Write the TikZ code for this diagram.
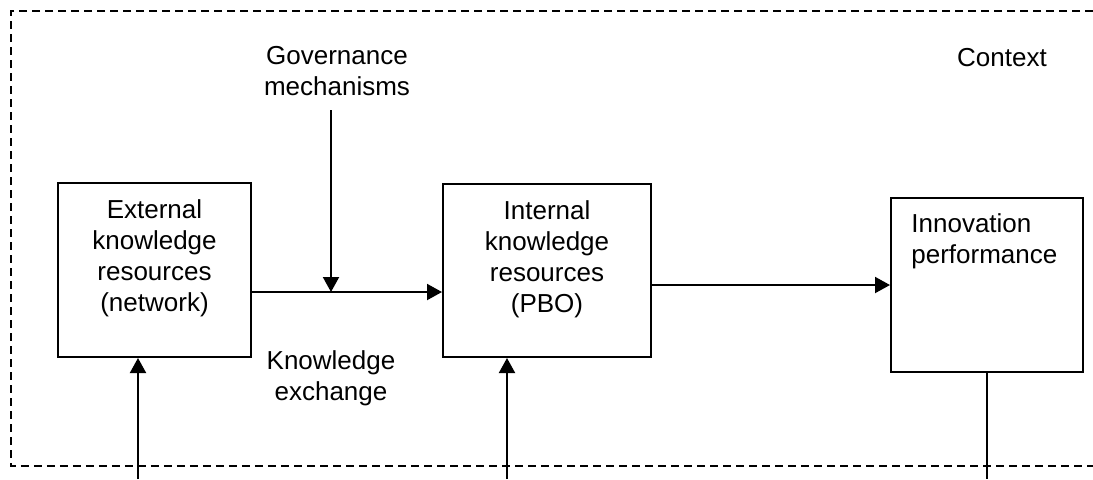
\documentclass[tikz,border=0pt]{standalone}
\usepackage{fontspec}
\setmainfont{Liberation Sans}
\usetikzlibrary{positioning,arrows.meta}
\begin{document}
\begin{tikzpicture}[x=0.5pt,y=-0.5pt,
	font=\fontsize{13}{15.5}\selectfont,
	box/.style={draw, line width=1pt, inner sep=0pt},
	txt/.style={inner sep=0pt, align=center},
	arr/.style={line width=1pt, -{Triangle[length=7.5pt,width=8pt]}},
	frame/.style={line width=1pt, dash pattern=on 4pt off 2.5pt}]
	\useasboundingbox (0,0) rectangle (1093,479);
	\draw[frame] (1093,11) -| (11,466) -- (1093,466);
	\node[txt, anchor=north] (context) at (1002,48) {Context};
	% boxes
	\node[box, minimum width=96.5pt, minimum height=87pt] (ext) at (154.5,270) {};
	\node[box, minimum width=104pt, minimum height=86.5pt] (int) at (547,270.5) {};
	\node[box, minimum width=96pt, minimum height=87pt] (inno) at (987,285) {};
	\node[txt, below=8.5pt of ext.north] (exttext) {External\\knowledge\\resources\\(network)};
	\node[txt, below=8.5pt of int.north] (inttext) {Internal\\knowledge\\resources\\(PBO)};
	\node[txt, align=left, anchor=north west] (innotext) at ([xshift=10.5pt,yshift=-8pt]inno.north west) {Innovation\\performance};
	% governance and exchange
	\coordinate (mid) at (331,292);
	\coordinate (govtop) at (331,110);
	\node[txt, anchor=north] (gov) at (337,46) {Governance\\mechanisms};
	\node[txt, below=29pt of mid] (exch) {Knowledge\\exchange};
	\draw[arr] (ext.east |- mid) -- (int.west |- mid);
	\draw[arr] (govtop) -- (mid);
	\draw[arr] (int.east |- inno.west) -- (inno.west);
	% lines crossing the bottom
	\coordinate (in1) at (138,479);
	\coordinate (in2) at (507,479);
	\coordinate (out) at (987,479);
	\draw[arr] (in1) -- (in1 |- ext.south);
	\draw[arr] (in2) -- (in2 |- int.south);
	\draw[line width=1pt] (inno.south) -- (out);
\end{tikzpicture}
\end{document}
